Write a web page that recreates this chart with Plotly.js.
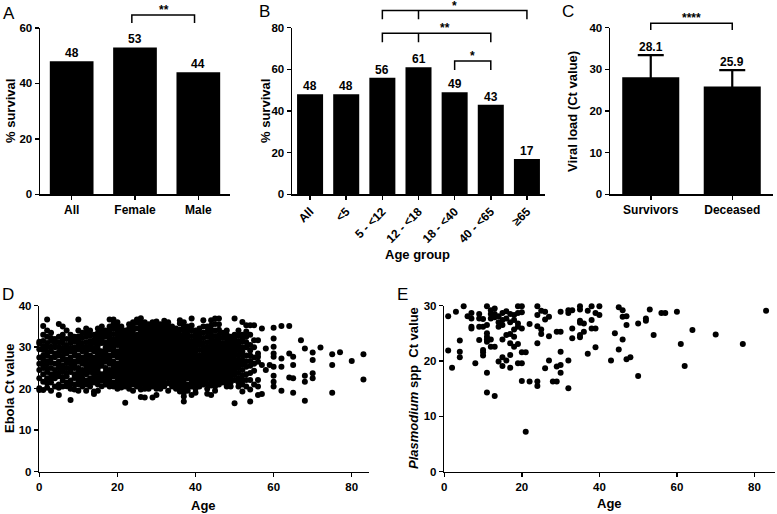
<!DOCTYPE html>
<html><head><meta charset="utf-8">
<script src="https://cdn.plot.ly/plotly-3.0.1.min.js"></script>
<style>html,body{margin:0;padding:0;background:#fff}#chart{width:777px;height:514px}</style>
</head><body><div id="chart"></div>
<script>
// ---------- DATA ----------
const sexCategories = ['All', 'Female', 'Male'];
const sexSurvival = [48, 53, 44];

const ageCategories = ['All', '<5', '5 - <12', '12 - <18', '18 - <40', '40 - <65', '≥65'];
const ageSurvival = [48, 48, 56, 61, 49, 43, 17];

const outcomeCategories = ['Survivors', 'Deceased'];
const outcomeCtMean = [28.1, 25.9];
const outcomeCtSD = [5.3, 3.9];

// significance brackets: from/to/mid are category indices, y and drop in data units
const sexComparisons = [{from: 0.95, to: 1.94, y: 64.7, drop: 2.9, label: '**', labelX: 1.45}];
const ageComparisons = [
  {from: 2, to: 6, mid: 3, y: 88.2, drop: 4.1, label: '*', labelX: 4},
  {from: 2, to: 5, mid: 3, y: 77.3, drop: 4.3, label: '**', labelX: 3.73},
  {from: 4, to: 5, y: 64.0, drop: 4.3, label: '*', labelX: 4.5}
];
const outcomeComparisons = [{from: 0, to: 1, y: 41.06, drop: 1.6, label: '****', labelX: 0.5}];

// Panel D: Ebola Ct value by age, one column per age [age, [Ct values]]
const ebolaColumns = [
  [0, [30.9, 31.3, 29.5, 27.5, 26, 24.5, 22.5, 20.1, 19.7]],
  [1, [35.1, 33, 31.5, 30.2, 29.3, 28, 27, 25.8, 25, 23.5, 21.7, 19.7]],
  [2, [36.7, 34, 32.5, 31, 30, 28.7, 28, 26.6, 26, 24.8, 24, 22.5, 21.3, 20.2]],
  [3, [33.5, 32.2, 31.5, 30.1, 29, 27.5, 26.4, 25, 23.5, 22.4, 21.5, 19.5]],
  [4, [32, 31, 30, 28.5, 27.6, 26, 24.5, 23.4, 22.5, 20.5]],
  [5, [35.6, 32.5, 31.2, 30, 28.8, 28, 26.5, 25.7, 25, 23.8, 23, 21, 20.2, 18.5]],
  [6, [35, 33, 32, 31, 29.8, 29, 27.8, 27, 25.5, 24.6, 24, 22.7, 22, 20.5]],
  [7, [34, 32, 30.5, 29.4, 28.5, 27, 26.2, 25, 23.8, 23, 21.5, 20.6]],
  [8, [33, 31.8, 31, 29.8, 29, 27.5, 26.6, 26, 24.8, 24, 22, 21.2, 20, 17.3]],
  [9, [32.5, 31.4, 30, 28.9, 28, 26.5, 25.8, 25, 23.5, 22.6, 21, 19.8]],
  [10, [36.7, 34, 32.6, 31.5, 30.5, 29.5, 28, 27.2, 26.5, 25, 24.1, 23, 21.9, 21, 19.5]],
  [11, [33.5, 32.3, 31, 29.9, 29, 27.5, 26.8, 26, 24.5, 23.6, 22.5, 21.4, 20.5]],
  [12, [34.5, 33.4, 32.5, 31.2, 30, 29, 28, 27, 26.2, 25.5, 24.6, 23.5, 22, 21, 19.5]],
  [13, [34, 32.8, 31.5, 30.4, 29.5, 28, 27.2, 26, 25, 24, 22.5, 21.6, 20.5]],
  [14, [33, 31.8, 31, 29.8, 29, 27.5, 26.6, 25.5, 24.5, 23.5, 22.6, 21.5, 19.3, 18.7]],
  [15, [34.5, 33.4, 32.5, 31.5, 30.5, 29.5, 28.5, 27.8, 27, 25.9, 25, 24, 23, 22, 21, 19.5]],
  [16, [35, 34, 33, 31.9, 31, 29, 28.1, 27, 26.3, 25.5, 23.5, 22.7, 22, 20.6]],
  [17, [34, 33.2, 32.5, 31.1, 30, 29.2, 28.5, 27.4, 26.5, 25, 24, 23, 21.8, 21]],
  [18, [36.7, 35, 34, 33, 32, 31, 30.2, 29.5, 28, 27.1, 26, 24.5, 23.6, 22.5, 21.5, 20.5]],
  [19, [36.7, 35.6, 34.5, 33.2, 32, 31, 30, 28.9, 28, 26.5, 25.7, 25, 23.9, 23, 21.5, 20.5]],
  [20, [36, 35, 34, 33, 32, 31.2, 30.5, 29, 28.2, 27.5, 26, 25, 24, 23, 22, 21, 20]],
  [21, [35, 34, 33, 31.9, 31, 30, 29, 28, 27, 26.2, 25.5, 24.4, 23.5, 22.5, 21.5, 20.3]],
  [22, [34, 33, 32, 31, 30, 29.3, 28.5, 27.4, 26.5, 25.5, 24.5, 23.5, 22.5, 21.5, 20.5, 16.6]],
  [23, [35.5, 34.5, 33.5, 32.4, 31.5, 30.5, 29.5, 28.7, 28, 27, 26, 25, 24, 23, 22, 21, 20]],
  [24, [36, 35, 34, 33, 32, 31, 30, 29.2, 28.5, 27.7, 27, 26, 25, 24, 23, 22, 21, 19.5]],
  [25, [36.7, 35.9, 34.5, 33, 32, 31, 30, 29, 28.2, 27.5, 26.7, 26, 25, 24, 23, 22, 21.2, 20.5]],
  [26, [37, 36, 35, 34.2, 33.5, 32.5, 31.5, 30.7, 30, 29, 28, 27.2, 26.5, 25.5, 24.5, 23.5, 22.5, 21.7, 21, 19.8, 18]],
  [27, [36, 35, 34, 33, 32, 31.2, 30.5, 29.8, 29, 28, 27, 26, 25, 24, 23, 22, 21, 20, 17.9]],
  [28, [35.5, 34.5, 33.5, 32.5, 31.5, 30.5, 29.5, 28.8, 28, 27, 26, 25, 24, 23, 22, 21, 20]],
  [29, [36, 35.2, 34.5, 33.5, 32.5, 31.5, 30.5, 29.8, 29, 28.3, 27.5, 26.5, 25.5, 24.5, 23.5, 22.5, 21.5, 20.5, 17.9]],
  [30, [36.2, 35, 34, 33, 32, 31, 30, 29.2, 28.5, 27.8, 27, 26, 25, 24, 23, 22, 21, 20, 18.5]],
  [31, [35.5, 34.5, 33.5, 32.5, 31.5, 30.5, 29.5, 28.8, 28, 27, 26, 25, 24, 23, 22, 21, 20]],
  [32, [36.4, 35.4, 34.5, 33.5, 32.5, 31.5, 30.5, 29.8, 29, 28.2, 27.5, 26.5, 25.5, 24.5, 23.5, 22.5, 21.5, 20.6]],
  [33, [36, 35, 34, 33, 32, 31, 30, 29.3, 28.5, 27.5, 26.5, 25.5, 24.5, 23.5, 22.5, 21.3, 19.5]],
  [34, [35, 34, 33, 32, 31, 30, 29, 28.2, 27.5, 26.5, 25.5, 24.5, 23.5, 22.5, 21.5, 20.5]],
  [35, [34.5, 33.5, 32.5, 31.5, 30.5, 29.5, 28.5, 27.8, 27, 26, 25, 24, 23, 22, 21, 20]],
  [36, [36.5, 35.7, 34.2, 33, 32, 31, 30, 29, 28.2, 27.5, 26.5, 25.5, 24.5, 23.5, 22.5, 21.5, 20.5, 19.3]],
  [37, [36, 35, 34, 33, 32, 31, 30, 29, 28, 27, 26, 25, 24, 23, 22, 21, 20, 19, 18.1, 16.9]],
  [38, [35, 34, 33, 32, 31, 30, 29, 28, 27, 26.2, 25.5, 24.5, 23.5, 22.5, 21, 20.2, 19.5]],
  [39, [36.9, 35.2, 34, 32.7, 31.5, 30.5, 29.5, 28.5, 27.5, 26.8, 26, 25, 24, 23, 22, 21.2, 20.5, 18.5]],
  [40, [34, 33, 32, 31, 30, 29, 28, 27, 26, 25, 24, 23, 22, 21, 20, 19]],
  [41, [34.5, 33.5, 32.5, 31.5, 30.5, 29.3, 28, 27.2, 26.5, 25.5, 24.5, 23.5, 22.5, 21.5, 20.5]],
  [42, [36.5, 35, 33.5, 32.2, 31, 30, 29, 28, 27, 26, 25, 24, 23, 22, 21]],
  [43, [35, 33.8, 32.5, 31.2, 30, 29.2, 28.5, 27.5, 26.5, 25.5, 24.5, 23.5, 22.5, 21.2, 20, 18.8]],
  [44, [36.5, 35.2, 34.1, 33, 32, 31, 30, 29, 28, 27, 26, 25, 24, 23, 22, 20.8, 18.5]],
  [45, [36.9, 35.6, 34, 32.7, 31.5, 30.5, 29.5, 28.5, 27.5, 26.5, 25.5, 24.5, 23.5, 22.5, 21.5, 20.5, 19.5]],
  [46, [36.9, 35.5, 34.2, 33, 32, 31, 30, 29, 28, 27, 26, 25, 24, 23, 22, 21]],
  [47, [33.5, 32.3, 31, 30, 29, 28, 27, 26, 25, 24.2, 23.5, 22.5, 21.5]],
  [48, [34, 33, 32, 31, 30, 29, 28, 27, 26, 25.2, 24.5, 23.5, 22.5, 21.5, 20.5]],
  [49, [32.5, 31.5, 30.5, 29.5, 28.5, 27.5, 26.5, 25.5, 24.5, 23.5, 22.5, 21.5, 20.5]],
  [50, [36.9, 33, 32, 31, 30, 29, 28, 27, 26, 25, 24.2, 23.3, 22.1, 16.5]],
  [51, [34, 32.8, 31.5, 30.5, 29.5, 28.2, 27, 26, 25, 23.8, 22.5, 21.5, 20.5]],
  [52, [36.1, 33, 32, 31.3, 30, 29, 28, 26.9, 25.8, 24.5, 23.2, 22, 21, 19.3]],
  [53, [35.3, 33.8, 32.5, 31.2, 30, 28, 26.6, 25.3, 23.5, 22.1, 20.5]],
  [54, [35.3, 33, 30.5, 29.2, 28, 26.7, 25.5, 23.8, 22.1, 19.8, 16.9]],
  [55, [35.3, 31.7, 30, 27.5, 26, 24.3, 21]],
  [56, [31.7, 28.5, 27.7, 26.5, 22.1, 20.5, 18.5]],
  [57, [34.5, 25.7, 18.7]],
  [58, [29.7, 24.5]],
  [59, [25.7]],
  [60, [34.7, 32.1, 30.1, 28.5, 27.7, 25.3, 23.1, 21.7, 20.5]],
  [62, [35.1, 27.3, 25.3, 19.5]],
  [64, [35.1, 28.5, 22.7]],
  [65, [27.7, 25.7, 22.5, 19.0]],
  [67, [31.7]],
  [68, [29.7, 23.1, 21.7, 17.1]],
  [70, [28.7, 26.9, 23.7, 22.5]],
  [72, [29.9]],
  [75, [28.3, 25.7, 19.0]],
  [77, [28.8]],
  [80, [26.7]],
  [83, [28.3, 22.2]]
];

// Panel E: Plasmodium spp Ct value by age, [age, Ct] pairs
const plasmodiumPoints = [
  [1,28.1],[5,29.9],[3,28.9],[1,21.9],[2,18.8],[4,23.7],[4,21.7],[4,20.7],[6,28.1],[7,28.7],
  [7,27.7],[7,26.2],[7,25.9],[8,19.6],[9,28.5],[9,27.7],[9,26.2],[9,23.8],[10,21.6],[10,21],
  [10,22],[10,26.2],[10,27.6],[11,29.9],[11,26.5],[11,25],[11,24.4],[11,23.9],[11,23.5],[11,17.9],
  [11,14.3],[12,29.2],[12,28.5],[12,27.7],[12,23.9],[12,22.6],[13,29.5],[13,28.5],[13,27.9],[13,22.6],
  [13,13.7],[14,28.1],[14,27],[14,26.2],[14,19.9],[15,28.7],[15,27.4],[15,26.5],[15,23.9],[15,20.7],
  [15,19.1],[16,29],[16,27.7],[16,24.7],[16,20.1],[17,28.5],[17,27],[17,24.9],[17,23.2],[17,21.1],
  [17,18.8],[18,28.3],[18,27.4],[18,25.7],[18,24.4],[18,22.6],[19,29.9],[19,28.7],[19,26.8],[19,26.2],
  [19,23.1],[19,19.6],[20,29.9],[20,28.8],[20,25.9],[20,21.6],[20,19.6],[20,16.4],[21,21.6],[21,7.2],
  [22,26.7],[22,16.3],[24,29.9],[24,28.3],[24,26.3],[24,23.2],[24,16.3],[24,15.5],[25,29.1],[25,25.7],
  [25,24.9],[26,28.9],[26,27.5],[26,18.7],[27,28],[27,24.5],[27,20.1],[28,16.3],[29,16.3],[29,25.3],
  [29,19],[30,28.9],[30,25.3],[30,21.7],[30,19.3],[30,17.9],[32,29.2],[32,28.7],[32,20.1],[32,15.1],
  [33,29.2],[33,25.9],[33,24.1],[35,29.9],[35,29.3],[35,27.3],[35,26.9],[35,24.7],[35,24.3],[36,26.8],
  [36,25.3],[37,29.1],[37,21.3],[38,29.9],[38,27.4],[38,25.9],[39,28.7],[39,25.9],[39,22.5],[40,29.9],
  [40,28.3],[43,20.1],[44,25],[45,29.7],[45,22.1],[46,29.2],[46,28],[46,23.9],[47,28.1],[47,26.5],
  [47,20.3],[48,20.7],[50,26.8],[50,17.3],[52,27.7],[52,27.3],[53,29.3],[54,24.7],[56,28.7],[57,28.7],
  [60,28.9],[61,23.1],[62,19.1],[64,25.6],[70,24.8],[77,23.1],[83,29.1]
];

// ---------- LAYOUT ----------
const W = 777, H = 514;
const FONT = 'Liberation Sans, Arial, Helvetica, sans-serif';
const xd = (l, r) => [l / W, r / W];
const yd = (top, bottom) => [1 - bottom / H, 1 - top / H];
const px = x => x / W, py = y => 1 - y / H;
const idx = arr => arr.map((_, i) => i);

const baseAxis = {
  showline: true, linecolor: '#000', linewidth: 1.5,
  ticks: 'outside', ticklen: 4, tickwidth: 1.5, tickcolor: '#000',
  showgrid: false, zeroline: false, fixedrange: true,
  tickfont: {family: FONT, size: 11.5, color: '#000', weight: 'bold'}
};
const catFont = {family: FONT, size: 12, color: '#000', weight: 'bold'};
const ax = o => Object.assign({}, baseAxis, o);

const layout = {
  width: W, height: H, margin: {l: 0, r: 0, t: 0, b: 0},
  paper_bgcolor: '#fff', plot_bgcolor: '#fff', showlegend: false,
  font: {family: FONT, color: '#000'},
  xaxis: ax({domain: xd(40, 230), anchor: 'y', range: [-0.5, 2.5], tickvals: idx(sexCategories), ticktext: sexCategories, tickfont: catFont}),
  yaxis: ax({domain: yd(28, 194.3), anchor: 'x', range: [0, 60], tickvals: [0, 20, 40, 60]}),
  xaxis2: ax({domain: xd(292, 545), anchor: 'y2', range: [-0.5, 6.5], tickvals: idx(ageCategories), ticktext: ageCategories, tickangle: -45, tickfont: catFont}),
  yaxis2: ax({domain: yd(27.7, 194.3), anchor: 'x2', range: [0, 80], tickvals: [0, 20, 40, 60, 80]}),
  xaxis3: ax({domain: xd(610, 773), anchor: 'y3', range: [-0.5, 1.5], tickvals: idx(outcomeCategories), ticktext: outcomeCategories, tickfont: catFont}),
  yaxis3: ax({domain: yd(27.7, 194.3), anchor: 'x3', range: [0, 40], tickvals: [0, 10, 20, 30, 40]}),
  xaxis4: ax({domain: xd(39.3, 369.3), anchor: 'y4', range: [0, 84.5], tickvals: [0, 20, 40, 60, 80]}),
  yaxis4: ax({domain: yd(305.7, 471.7), anchor: 'x4', range: [0, 40], tickvals: [0, 10, 20, 30, 40]}),
  xaxis5: ax({domain: xd(444.3, 775), anchor: 'y5', range: [0, 85.3], tickvals: [0, 20, 40, 60, 80]}),
  yaxis5: ax({domain: yd(305.7, 471.7), anchor: 'x5', range: [0, 30], tickvals: [0, 10, 20, 30]})
};

// data value -> paper fraction through an axis' own domain and range
const toPaper = (axisKey, v) => {
  const a = layout[axisKey];
  return a.domain[0] + (v - a.range[0]) / (a.range[1] - a.range[0]) * (a.domain[1] - a.domain[0]);
};

const ebolaAge = [], ebolaCt = [];
ebolaColumns.forEach(([a, cts]) => cts.forEach(c => { ebolaAge.push(a); ebolaCt.push(c); }));

const traces = [
  {type: 'bar', x: idx(sexCategories), y: sexSurvival, xaxis: 'x', yaxis: 'y',
   marker: {color: '#000'}, width: 0.69, hoverinfo: 'skip'},
  {type: 'bar', x: idx(ageCategories), y: ageSurvival, xaxis: 'x2', yaxis: 'y2',
   marker: {color: '#000'}, width: 0.72, hoverinfo: 'skip'},
  {type: 'bar', x: idx(outcomeCategories), y: outcomeCtMean, xaxis: 'x3', yaxis: 'y3',
   marker: {color: '#000'}, width: 0.7, hoverinfo: 'skip',
   error_y: {type: 'data', symmetric: true, array: outcomeCtSD, color: '#000', thickness: 2.2, width: 13}},
  {type: 'scatter', mode: 'markers', x: ebolaAge, y: ebolaCt, xaxis: 'x4', yaxis: 'y4',
   marker: {color: '#000', size: 6}, cliponaxis: false, hoverinfo: 'skip'},
  {type: 'scatter', mode: 'markers', x: plasmodiumPoints.map(p => p[0]), y: plasmodiumPoints.map(p => p[1]),
   xaxis: 'x5', yaxis: 'y5', marker: {color: '#000', size: 6}, cliponaxis: false, hoverinfo: 'skip'}
];

const annotations = [];
const shapes = [];
const valFont = {family: FONT, size: 12, color: '#000', weight: 'bold'};

function valueLabels(vals, xr, yr, tops, fmt) {
  vals.forEach((v, i) => annotations.push({
    xref: xr, yref: yr, x: i, y: tops[i], text: fmt(v), showarrow: false,
    yanchor: 'middle', yshift: 8, font: valFont
  }));
}
valueLabels(sexSurvival, 'x', 'y', sexSurvival, v => String(v));
valueLabels(ageSurvival, 'x2', 'y2', ageSurvival, v => String(v));
valueLabels(outcomeCtMean, 'x3', 'y3', outcomeCtMean.map((m, i) => m + outcomeCtSD[i]), v => v.toFixed(1));

function brackets(list, xk, yk) {
  list.forEach(b => {
    const X = v => toPaper(xk, v), Y = v => toPaper(yk, v);
    let p = `M ${X(b.from)},${Y(b.y - b.drop)} L ${X(b.from)},${Y(b.y)} L ${X(b.to)},${Y(b.y)} L ${X(b.to)},${Y(b.y - b.drop)}`;
    if (b.mid !== undefined) p += ` M ${X(b.mid)},${Y(b.y)} L ${X(b.mid)},${Y(b.y - b.drop)}`;
    shapes.push({type: 'path', xref: 'paper', yref: 'paper', path: p, line: {color: '#000', width: 1.5}});
    annotations.push({xref: 'paper', yref: 'paper', x: X(b.labelX), y: Y(b.y), text: b.label, showarrow: false,
      xanchor: 'center', yanchor: 'middle', yshift: 5, font: valFont});
  });
}
brackets(sexComparisons, 'xaxis', 'yaxis');
brackets(ageComparisons, 'xaxis2', 'yaxis2');
brackets(outcomeComparisons, 'xaxis3', 'yaxis3');

function paperText(text, x, y, opts) {
  annotations.push(Object.assign({xref: 'paper', yref: 'paper', x: px(x), y: py(y), text,
    showarrow: false, xanchor: 'center', yanchor: 'middle',
    font: {family: FONT, size: 13, color: '#000', weight: 'bold'}}, opts || {}));
}
const letterFont = {family: FONT, size: 17, color: '#000'};
paperText('A', 9, 13, {font: letterFont});
paperText('B', 264, 11, {font: letterFont});
paperText('C', 568, 11, {font: letterFont});
paperText('D', 8, 294, {font: letterFont});
paperText('E', 402, 294, {font: letterFont});

paperText('% survival', 10, 111, {textangle: -90});
paperText('% survival', 265, 111, {textangle: -90});
paperText('Viral load (Ct value)', 572, 112, {textangle: -90});
paperText('Age group', 418, 254);
paperText('Ebola Ct value', 9, 388, {textangle: -90});
paperText('Age', 204, 505);
paperText('<i>Plasmodium</i> spp\u00a0 Ct value', 413, 388, {textangle: -90});
paperText('Age', 609, 503);

layout.annotations = annotations;
layout.shapes = shapes;

Plotly.newPlot('chart', traces, layout, {staticPlot: true, displayModeBar: false});
</script>
</body></html>
